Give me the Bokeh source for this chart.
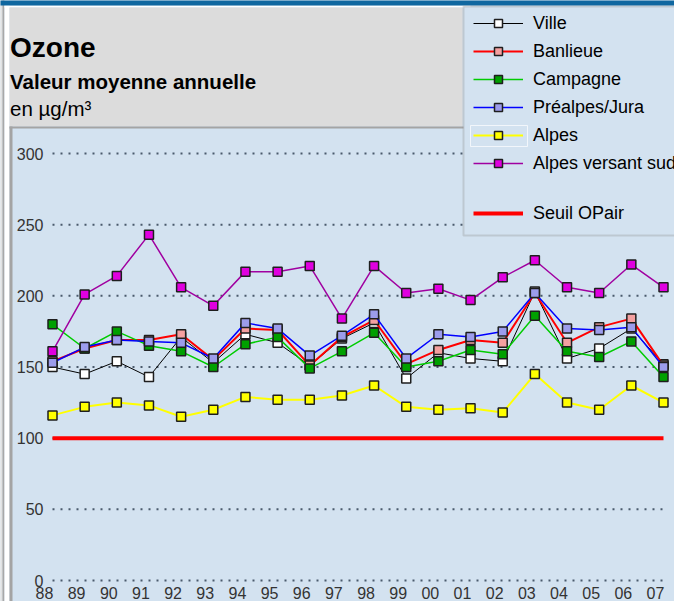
from bokeh.plotting import figure
from bokeh.models import (FixedTicker, Legend, LegendItem, BoxAnnotation, Label, Range1d)
from bokeh.embed import file_html
from bokeh.resources import INLINE

# ---------------- data ----------------
years = list(range(1988, 2008))
year_labels = ["88", "89", "90", "91", "92", "93", "94", "95", "96", "97",
               "98", "99", "00", "01", "02", "03", "04", "05", "06", "07"]
y_ticks = [0, 50, 100, 150, 200, 250, 300]

ville = [150, 145, 154, 143, 171, 153, 173, 167, 151, 170, 181, 142, 160, 156, 154, 203, 156, 163, 177, 152]
banlieue = [154, 163, 169, 169, 173, 155, 177, 176, 151, 171, 183, 152, 162, 169, 167, 202, 167, 178, 184, 151]
campagne = [180, 163, 175, 165, 161, 150, 166, 171, 149, 161, 174, 150, 154, 162, 159, 186, 161, 157, 168, 143]
prealpes = [153, 164, 169, 168, 167, 156, 181, 177, 158, 172, 187, 156, 173, 171, 175, 202, 177, 176, 178, 150]
alpes = [116, 122, 125, 123, 115, 120, 129, 127, 127, 130, 137, 122, 120, 121, 118, 145, 125, 120, 137, 125]
alpes_sud = [161, 201, 214, 243, 206, 193, 217, 217, 221, 184, 221, 202, 205, 197, 213, 225, 206, 202, 222, 206]
seuil = 100

series_names = ["Ville", "Banlieue", "Campagne", "Préalpes/Jura", "Alpes", "Alpes versant sud"]
series_values = [ville, banlieue, campagne, prealpes, alpes, alpes_sud]
line_colors = ["#000000", "#FF0000", "#00CC00", "#0000FF", "#FFFF00", "#A000A0"]
line_widths = [1, 2, 1.5, 1.5, 2, 1.5]
marker_fills = ["#FFFFFF", "#F4A0A0", "#00A000", "#9C9CEC", "#FFFF00", "#E000E0"]

# ---------------- layout ----------------
BG = "#D3E2F0"
FONT = "Liberation Sans"
W, H = 674, 601
x0_px, x1_px = 52, 663          # pixel of first / last year
y0_px, y300_px = 580, 153       # pixel (from top) of 0 and 300
xs = (x1_px - x0_px) / (years[-1] - years[0])
ys = (y0_px - y300_px) / 300.0
x_start = years[0] - x0_px / xs
x_end = years[-1] + (W - x1_px) / xs
y_start = 0 - (H - y0_px) / ys
y_end = 300 + y300_px / ys

p = figure(width=W, height=H, output_backend="svg", toolbar_location=None,
           x_range=Range1d(x_start, x_end), y_range=Range1d(y_start, y_end),
           min_border=0, min_border_left=0, min_border_right=0,
           min_border_top=0, min_border_bottom=0)
p.background_fill_color = BG
p.border_fill_color = BG
p.outline_line_color = None
p.xgrid.visible = False
p.ygrid.visible = False


def sy(v):
    return H - v


def box(l, r, t, b, **kw):
    return BoxAnnotation(left=l, right=r, top=sy(t), bottom=sy(b),
                         left_units="screen", right_units="screen",
                         top_units="screen", bottom_units="screen", **kw)


# page chrome around the chart
p.add_layout(box(-5, 2, -5, 700, fill_color="#E2E2E2", fill_alpha=1, line_color=None))
p.add_layout(box(2, 4, -5, 700, fill_color="#A8A8A8", fill_alpha=1, line_color=None))
p.add_layout(box(4, 9, -5, 700, fill_color="#FFFFFF", fill_alpha=1, line_color=None))
p.add_layout(box(4, 470, 5, 7, fill_color="#FFFFFF", fill_alpha=1, line_color=None))
p.add_layout(box(-5, 700, -5, 5, fill_color="#0F67A0", fill_alpha=1, line_color=None))
p.add_layout(box(9, 462, 7, 126, fill_color="#DCDCDC", fill_alpha=1, line_color=None))
p.add_layout(box(9, 700, 126, 128, fill_color="#A4A4A4", fill_alpha=1, line_color=None))
p.add_layout(box(9, 12, 126, 700, fill_color="#A4A4A4", fill_alpha=1, line_color=None))
# legend panel
p.add_layout(box(463, 720, 6, 235, fill_color=BG, fill_alpha=1,
                 line_color="#8C8C8C", line_width=2))

# titles
for txt, size, style, base in [("Ozone", "28px", "bold", 46.7),
                               ("Valeur moyenne annuelle", "20.5px", "bold", 81),
                               ("en µg/m³", "20.5px", "normal", 108)]:
    p.add_layout(Label(x=9.5, y=sy(base), x_units="screen", y_units="screen",
                       text=txt, text_font=FONT, text_font_size=size,
                       text_font_style=style, text_color="#000000",
                       text_baseline="alphabetic", text_align="left"))

# dotted grid lines over the data span
p.segment(x0=[years[0]] * len(y_ticks), x1=[years[-1]] * len(y_ticks),
          y0=y_ticks, y1=y_ticks, line_color="#4A5A6C", line_width=2,
          line_dash="2 6")

# threshold
seuil_r = p.segment(x0=[years[0]], x1=[years[-1]], y0=[seuil], y1=[seuil],
                    line_color="#FF0000", line_width=4)

items = []
for name, vals, lc, lw, mf in zip(series_names, series_values, line_colors, line_widths, marker_fills):
    lr = p.line(years, vals, line_color=lc, line_width=lw)
    sr = p.scatter(years, vals, marker="square", size=9, fill_color=mf,
                   line_color="#1E1E1E", line_width=1.5)
    items.append(LegendItem(label=name, renderers=[lr, sr]))

# axes, placed inside the canvas
p.yaxis.fixed_location = x_start + 45 / xs
p.yaxis.ticker = FixedTicker(ticks=y_ticks)
p.yaxis.axis_line_color = None
p.yaxis.major_tick_line_color = None
p.yaxis.minor_tick_line_color = None
p.yaxis.major_tick_out = 0
p.yaxis.major_label_standoff = 2
p.yaxis.major_label_text_font = FONT
p.yaxis.major_label_text_font_size = "16px"
p.yaxis.major_label_text_color = "#333333"

x_tick_pos = [y - 0.25 for y in years]
p.xaxis.fixed_location = y_start + (H - 585) / ys
p.xaxis.ticker = FixedTicker(ticks=x_tick_pos)
p.xaxis.major_label_overrides = {t: lab for t, lab in zip(x_tick_pos, year_labels)}
p.xaxis.axis_line_color = None
p.xaxis.major_tick_line_color = None
p.xaxis.minor_tick_line_color = None
p.xaxis.major_tick_out = 0
p.xaxis.major_label_standoff = 1
p.xaxis.major_label_text_font = FONT
p.xaxis.major_label_text_font_size = "16px"
p.xaxis.major_label_text_color = "#333333"

legend_style = dict(glyph_width=50, glyph_height=20, label_height=22,
                    label_standoff=10, spacing=6, padding=0, margin=0,
                    label_text_font=FONT, label_text_font_size="18px",
                    label_text_color="#000000", border_line_color=None,
                    background_fill_alpha=0)
p.add_layout(Legend(items=items, location=(473, sy(174)), **legend_style))
p.add_layout(Legend(items=[LegendItem(label="Seuil OPair", renderers=[seuil_r])],
                    location=(473, sy(224)), **legend_style))

p.add_layout(box(470, 527, 125, 146, fill_color=None, line_color="#FFFFFF",
                 line_alpha=0.7, line_width=1))

open("out.html", "w").write(file_html(p, INLINE))
